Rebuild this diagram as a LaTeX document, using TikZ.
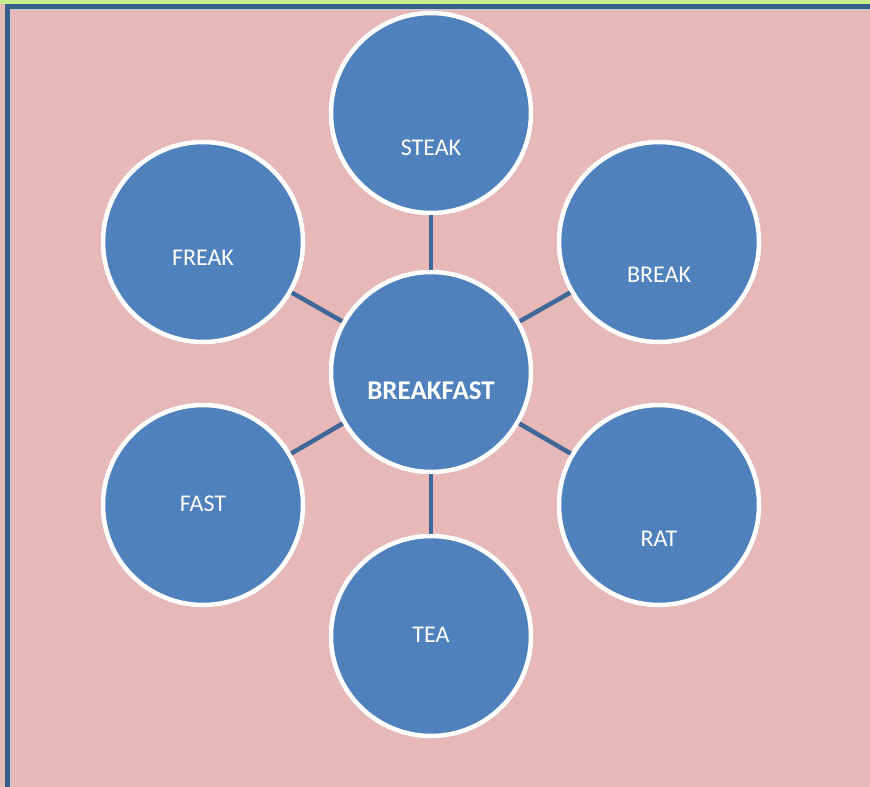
\documentclass[tikz,border=0pt]{standalone}
\usepackage{fontspec}
\setmainfont{Carlito}
\definecolor{bgpink}{HTML}{E6B8B7}
\definecolor{topgreen}{HTML}{C6EF8E}
\definecolor{framebl}{HTML}{385D8A}
\definecolor{circbl}{HTML}{4F81BD}
\definecolor{linkbl}{HTML}{3F6797}
\tikzset{
  bubble/.style={circle, fill=circbl, draw=white, line width=4.5pt, minimum size=200pt, inner sep=0pt},
  word/.style={text=white, font=\fontsize{24}{28}\selectfont},
  link/.style={draw=linkbl, line width=4.5pt}
}
\begin{document}
\begin{tikzpicture}[x=1pt,y=-1pt]
\useasboundingbox (0,0) rectangle (870,787);
\fill[bgpink] (0,0) rectangle (870,787);
\fill[topgreen] (0,0) rectangle (870,3.5);
\draw[framebl, line width=5.5pt] (7.5,790) -- (7.5,6.5) -- (875,6.5);
\draw[white!70!framebl, line width=0.8pt] (10.7,790) -- (10.7,9.6) -- (875,9.6);
\node[bubble] (c) at (431,372) {};
\node[bubble] (s) at (431,113) {};
\node[bubble] (b) at (659,242) {};
\node[bubble] (r) at (659,505) {};
\node[bubble] (t) at (431,636) {};
\node[bubble] (fa) at (203,505) {};
\node[bubble] (fr) at (203,242) {};
\node[word, font=\bfseries\fontsize{27}{31}\selectfont] at ([yshift=-19pt]c.center) {BREAKFAST};
\node[word] at ([yshift=-35pt]s.center) {STEAK};
\node[word] at ([yshift=-33pt]b.center) {BREAK};
\node[word] at ([yshift=-34pt]r.center) {RAT};
\node[word] at ([yshift=1pt]t.center) {TEA};
\node[word] at ([yshift=1pt]fa.center) {FAST};
\node[word] at ([yshift=-16pt]fr.center) {FREAK};
\foreach \n in {s,b,r,t,fa,fr} \draw[link] (c) -- (\n);
\end{tikzpicture}
\end{document}
